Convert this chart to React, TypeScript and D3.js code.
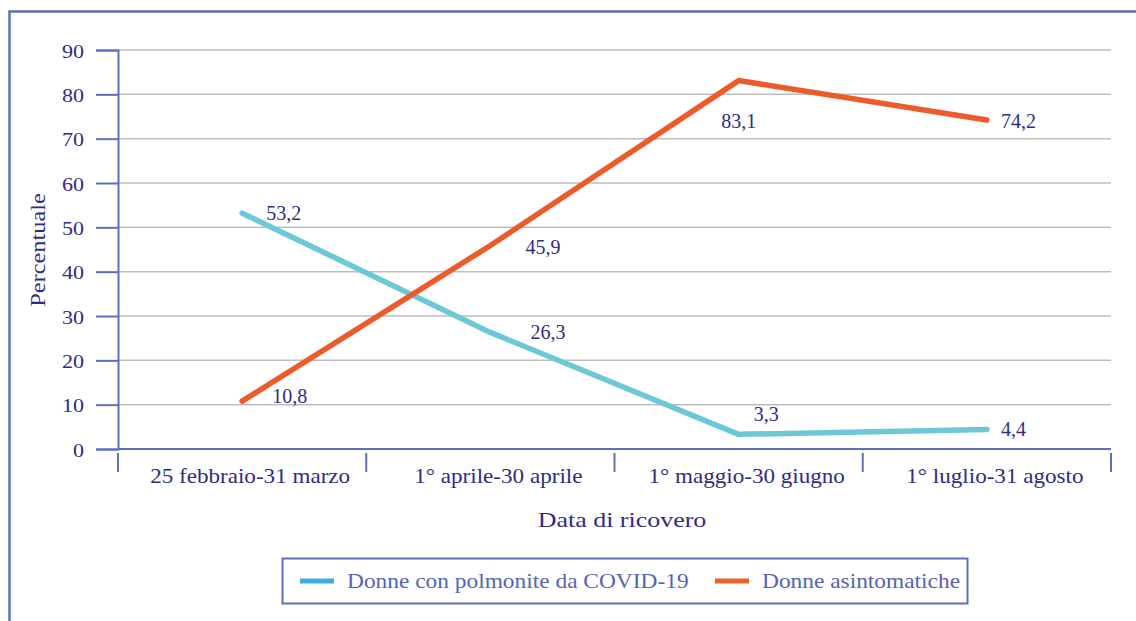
import React, { useEffect, useRef } from 'react';
import * as d3 from 'd3';

const categories = ['25 febbraio-31 marzo', '1° aprile-30 aprile', '1° maggio-30 giugno', '1° luglio-31 agosto'];
const polmonite = [53.2, 26.3, 3.3, 4.4];
const asintomatiche = [10.8, 45.9, 83.1, 74.2];
const yTicks = [0, 10, 20, 30, 40, 50, 60, 70, 80, 90];
const seriesNames = ['Donne con polmonite da COVID-19', 'Donne asintomatiche'];

const W = 1136;
const H = 621;
const FONT = '"Liberation Serif", "DejaVu Serif", serif';
const INK = '#2f2c85';
const AXIS = '#5a6fc0';

// text drawn a bit wider than the font, like the source
function addText(g: any, x: number, y: number, txt: string, size: number, sx: number, anchor = 'start', fill = INK, rot = 0) {
  return g.append('text')
    .attr('transform', `translate(${x},${y}) rotate(${rot}) scale(${sx},1)`)
    .attr('text-anchor', anchor)
    .attr('fill', fill)
    .style('font-family', FONT)
    .style('font-size', size + 'px')
    .text(txt);
}

function App() {
  const svgRef = useRef<SVGSVGElement>(null);

  useEffect(() => {
    document.body.style.margin = '0';
    const svg = d3.select(svgRef.current);
    svg.selectAll('*').remove();

    const left = 118, right = 1111, top = 50, bottom = 449;

    // outer frame, cut at right and bottom like the source
    svg.append('rect')
      .attr('x', 9.5).attr('y', 11.5)
      .attr('width', W + 20).attr('height', H + 20)
      .attr('fill', 'none').attr('stroke', AXIS).attr('stroke-width', 2.5);

    const x = d3.scaleBand().domain(categories).range([left, right]);
    const y = d3.scaleLinear().domain([0, 90]).range([bottom, top]);

    // gridlines
    svg.append('g')
      .selectAll('line')
      .data(yTicks.filter(d => d > 0))
      .enter()
      .append('line')
      .attr('x1', left).attr('x2', right)
      .attr('y1', d => y(d)).attr('y2', d => y(d))
      .attr('stroke', '#bdbdbd').attr('stroke-width', 1.5);

    // y axis
    const yAxis = d3.axisLeft(y).tickValues(yTicks).tickSize(22).tickPadding(12);
    const gy = svg.append('g').attr('transform', `translate(${left},0)`).call(yAxis);
    gy.select('.domain').attr('stroke', AXIS).attr('stroke-width', 2);
    gy.selectAll('.tick line').attr('stroke', AXIS).attr('stroke-width', 2);
    gy.selectAll('.tick text')
      .attr('x', 0)
      .attr('transform', 'translate(-34,1) scale(1.16,1)')
      .attr('fill', INK).style('font-family', FONT).style('font-size', '19px');

    // x axis
    const gx = svg.append('g').attr('transform', `translate(0,${bottom})`);
    gx.append('line')
      .attr('x1', left).attr('x2', right)
      .attr('stroke', AXIS).attr('stroke-width', 2);
    const seps = categories.map(c => x(c) as number).concat([right]);
    gx.selectAll('line.sep')
      .data(seps)
      .enter()
      .append('line')
      .attr('class', 'sep')
      .attr('x1', d => d).attr('x2', d => d)
      .attr('y1', 4).attr('y2', 23)
      .attr('stroke', AXIS).attr('stroke-width', 2);
    categories.forEach(c => {
      addText(gx, (x(c) as number) + x.bandwidth() / 2 + 8, 34, c, 21, 1.1, 'middle');
    });

    addText(svg, 622, 527, 'Data di ricovero', 22, 1.18, 'middle');
    addText(svg, 45, 250, 'Percentuale', 20, 1.22, 'middle', INK, -90);

    // lines
    const px = (i: number) => (x(categories[i]) as number) + x.bandwidth() / 2;
    const line = d3.line<number>()
      .x((d, i) => px(i))
      .y(d => y(d));

    const series = [
      { values: polmonite, color: '#6cc7d7', offsets: [[24, 7, 'start'], [40, 7, 'start'], [15, -13, 'start'], [14, 7, 'start']] },
      { values: asintomatiche, color: '#ee5b2a', offsets: [[30, 2, 'start'], [35, 8, 'start'], [0, 47, 'middle'], [14, 8, 'start']] },
    ];

    series.forEach(s => {
      svg.append('path')
        .datum(s.values)
        .attr('d', line)
        .attr('fill', 'none')
        .attr('stroke', s.color)
        .attr('stroke-width', 5.5)
        .attr('stroke-linecap', 'round')
        .attr('stroke-linejoin', 'round');

      const gl = svg.append('g');
      s.values.forEach((d, i) => {
        const o = s.offsets[i];
        addText(gl, px(i) + (o[0] as number), y(d) + (o[1] as number), d.toFixed(1).replace('.', ','), 20, 1.0, o[2] as string);
      });
    });

    // legend
    const lg = svg.append('g');
    lg.append('rect')
      .attr('x', 282.5).attr('y', 558.5)
      .attr('width', 685).attr('height', 45)
      .attr('fill', 'none').attr('stroke', AXIS).attr('stroke-width', 2);
    const legendColors = ['#3aaee0', '#f0602c'];
    const legendX = [300, 715];
    seriesNames.forEach((name, i) => {
      lg.append('line')
        .attr('x1', legendX[i]).attr('x2', legendX[i] + 34)
        .attr('y1', 581).attr('y2', 581)
        .attr('stroke', legendColors[i]).attr('stroke-width', 5);
      addText(lg, legendX[i] + 47, 588, name, 20, 1.17, 'start', '#5563b8');
    });
  }, []);

  return <svg ref={svgRef} width={W} height={H} style={{ display: 'block', background: '#fff' }}></svg>;
}

export default App;
